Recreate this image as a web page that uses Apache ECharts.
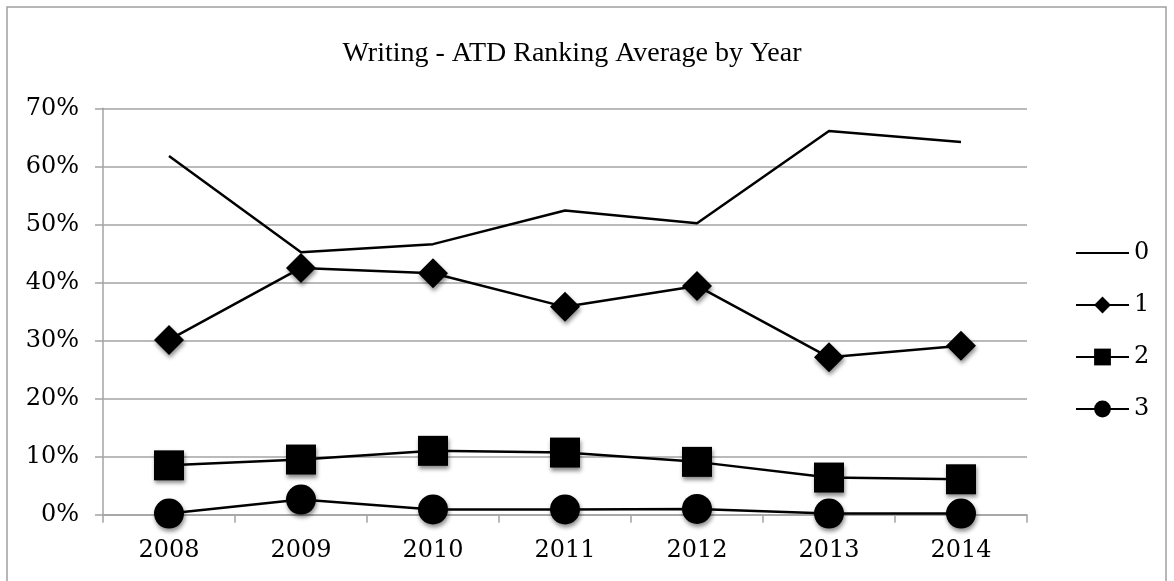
<!DOCTYPE html>
<html>
<head>
<meta charset="utf-8">
<script src="https://cdn.jsdelivr.net/npm/echarts@6/dist/echarts.min.js"></script>
<style>
html,body{margin:0;padding:0;background:#fff;}
#chart{width:1174px;height:581px;}
</style>
</head>
<body>
<div id="chart"></div>
<script>
const titleText = 'Writing - ATD Ranking Average by Year';
const years = ['2008', '2009', '2010', '2011', '2012', '2013', '2014'];
const seriesNames = ['0', '1', '2', '3'];
const rank0 = [61.8, 45.2, 46.6, 52.4, 50.2, 66.1, 64.2];
const rank1 = [30.1, 42.5, 41.6, 35.8, 39.4, 27.1, 29.1];
const rank2 = [8.5, 9.5, 11.0, 10.7, 9.1, 6.4, 6.1];
const rank3 = [0.2, 2.6, 0.9, 0.9, 1.0, 0.2, 0.2];
const yTicks = [0, 10, 20, 30, 40, 50, 60, 70];

const serifLabel = 'DejaVu Serif';
const gridGray = '#a3a3a3';
const markerShadow = {
  shadowBlur: 4,
  shadowColor: 'rgba(0,0,0,0.45)',
  shadowOffsetX: 1,
  shadowOffsetY: 3
};

function mkSeries(name, data, symbol) {
  return {
    name: name,
    type: 'line',
    data: data,
    symbol: symbol,
    symbolSize: 30,
    showSymbol: symbol !== 'none',
    animation: false,
    lineStyle: { color: '#000', width: 2.5 },
    itemStyle: Object.assign({ color: '#000' }, markerShadow),
    z: 3
  };
}

const chart = echarts.init(document.getElementById('chart'), null, { renderer: 'canvas' });
chart.setOption({
  backgroundColor: '#fff',
  animation: false,
  graphic: [{
    type: 'rect',
    shape: { x: 7, y: 7, width: 1159, height: 600 },
    style: { fill: 'none', stroke: '#a0a0a0', lineWidth: 1.5 },
    silent: true
  }],
  title: {
    text: titleText,
    left: 567,
    textAlign: 'center',
    top: 35,
    textStyle: {
      fontFamily: 'Liberation Serif',
      fontSize: 28,
      fontWeight: 'normal',
      color: '#000'
    }
  },
  grid: { left: 103, right: 147, top: 108.3, bottom: 66.3, containLabel: false },
  legend: {
    orient: 'vertical',
    left: 1070,
    top: 236,
    itemWidth: 53,
    itemHeight: 21,
    itemGap: 28,
    itemStyle: { shadowBlur: 0, shadowColor: 'transparent', shadowOffsetX: 0, shadowOffsetY: 0 },
    lineStyle: { width: 2 },
    textStyle: { fontFamily: serifLabel, fontSize: 24, color: '#000', lineHeight: 24, padding: [0, 0, 0, 0] },
    data: [
      { name: seriesNames[0], itemStyle: { opacity: 0 } },
      { name: seriesNames[1] },
      { name: seriesNames[2] },
      { name: seriesNames[3] }
    ]
  },
  xAxis: {
    type: 'category',
    data: years,
    boundaryGap: true,
    axisLine: { show: true, lineStyle: { color: gridGray, width: 1.5 } },
    axisTick: { show: true, length: 8, alignWithLabel: false, lineStyle: { color: gridGray, width: 1.5 } },
    axisLabel: { fontFamily: serifLabel, fontSize: 24, color: '#000', margin: 24 },
    splitLine: { show: false }
  },
  yAxis: {
    type: 'value',
    min: yTicks[0],
    max: yTicks[yTicks.length - 1],
    interval: yTicks[1] - yTicks[0],
    axisLine: { show: true, lineStyle: { color: gridGray, width: 1.5 } },
    axisTick: { show: true, length: 8, lineStyle: { color: gridGray, width: 1.5 } },
    axisLabel: { fontFamily: serifLabel, fontSize: 24, color: '#000', margin: 24, formatter: '{value}%' },
    splitLine: { show: true, lineStyle: { color: gridGray, width: 1.5 } }
  },
  series: [
    mkSeries(seriesNames[0], rank0, 'none'),
    mkSeries(seriesNames[1], rank1, 'diamond'),
    mkSeries(seriesNames[2], rank2, 'rect'),
    mkSeries(seriesNames[3], rank3, 'circle')
  ]
});
</script>
</body>
</html>
